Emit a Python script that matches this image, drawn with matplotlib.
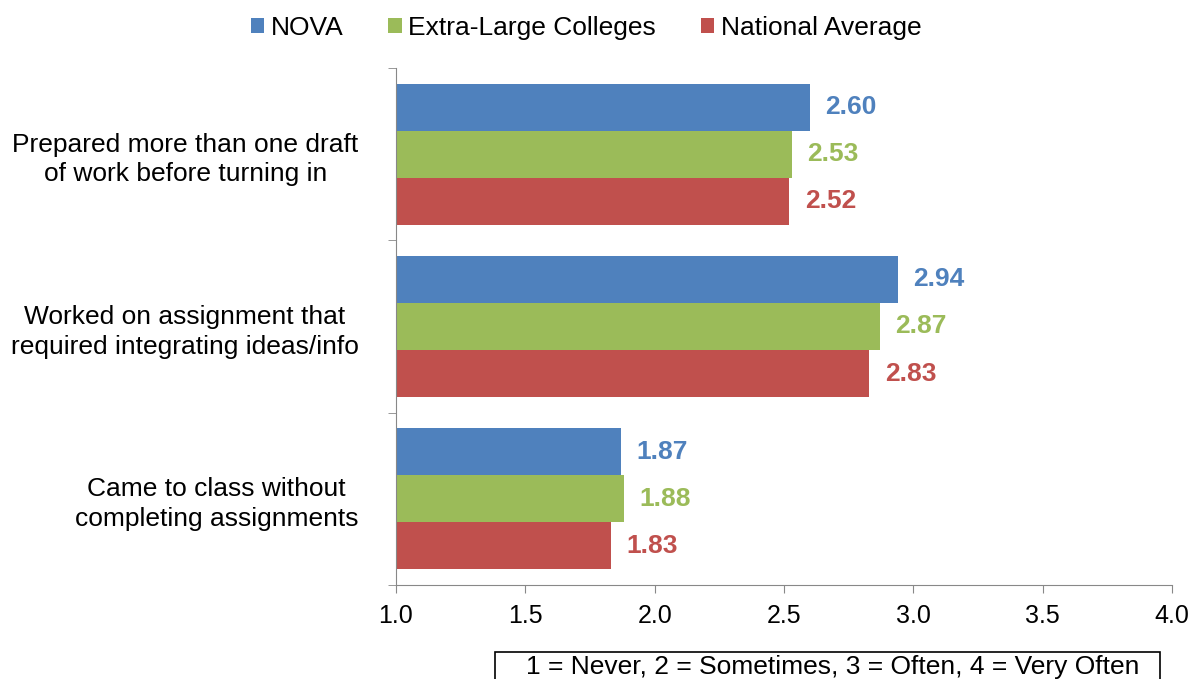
import matplotlib.pyplot as plt
import matplotlib.patches as mpatches
import numpy as np

plt.rcParams['font.family'] = ['Liberation Sans', 'DejaVu Sans']

categories = ['Prepared more than one draft\nof work before turning in',
              'Worked on assignment that\nrequired integrating ideas/info',
              'Came to class without\ncompleting assignments']
series_names = ['NOVA', 'Extra-Large Colleges', 'National Average']
nova = [2.60, 2.94, 1.87]
xl_colleges = [2.53, 2.87, 1.88]
national = [2.52, 2.83, 1.83]
colors = ['#4F81BD', '#9BBB59', '#C0504D']

fig = plt.figure(figsize=(12.01, 6.79), dpi=100)
ax = fig.add_axes([0.3297, 0.1384, 0.6462, 0.7615])

y = np.arange(len(categories))
h = 0.273
for i, (vals, name, c) in enumerate(zip([nova, xl_colleges, national], series_names, colors)):
    pos = y + (i - 1) * h
    ax.barh(pos, np.array(vals) - 1.0, left=1.0, height=h, color=c, label=name)
    for p, v in zip(pos, vals):
        ax.text(v + 0.06, p, f'{v:.2f}', va='center', ha='left', color=c,
                fontsize=19, fontweight='bold')

ax.set_xlim(1.0, 4.0)
ax.set_ylim(2.5, -0.5)
ax.set_xticks(np.arange(1.0, 4.01, 0.5))
ax.set_xticklabels([f'{t:.1f}' for t in np.arange(1.0, 4.01, 0.5)], fontsize=18)
ax.set_yticks(y)
ax.set_yticklabels(categories, fontsize=19, multialignment='center', linespacing=1.3)
ax.set_yticks([-0.5, 0.5, 1.5, 2.5], minor=True)
ax.tick_params(axis='y', which='major', length=0, pad=27)
ax.tick_params(axis='y', which='minor', length=6, color='#888888', direction='out')
ax.tick_params(axis='x', length=6, color='#888888', direction='out', pad=8)

for s in ['top', 'right']:
    ax.spines[s].set_visible(False)
for s in ['left', 'bottom']:
    ax.spines[s].set_color('#888888')

fig.legend(loc='upper center', bbox_to_anchor=(0.488, 1.012), ncol=3, frameon=False,
           fontsize=19, handlelength=0.5, handleheight=0.5, handletextpad=0.25,
           columnspacing=1.7)

# scale note box (runs off the bottom edge, as in the original)
box = mpatches.Rectangle((495 / 1201, -0.02), 665 / 1201, 0.02 + 27 / 679,
                         transform=fig.transFigure, facecolor='white',
                         edgecolor='black', linewidth=1.2)
fig.patches.append(box)
fig.text(0.693, 0.0177, '1 = Never, 2 = Sometimes, 3 = Often, 4 = Very Often',
         ha='center', va='center', fontsize=19)

fig.savefig('out.png', dpi=100, facecolor='white')
